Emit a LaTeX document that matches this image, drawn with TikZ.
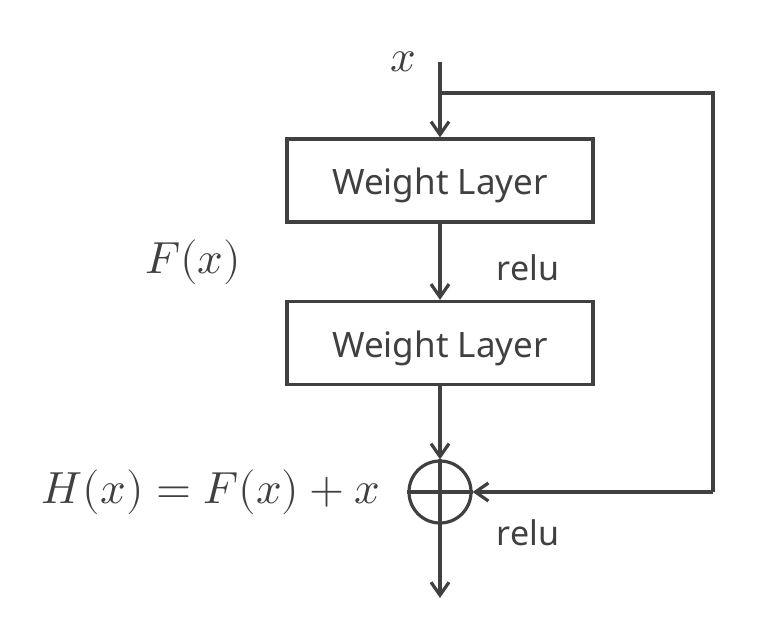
\documentclass[tikz,border=0pt]{standalone}
\usepackage{fontspec}
\usepackage{unicode-math}
\setmainfont{Noto Sans}
\setmathfont{Latin Modern Math}
\usetikzlibrary{arrows.meta}
\definecolor{ink}{HTML}{404040}
\begin{document}
\begin{tikzpicture}[x=1pt,y=-1pt,
  line width=3.2pt, draw=ink, color=ink,
  arr/.style={-{Straight Barb[length=13pt,width=18pt,line width=3.2pt]}},
  layer/.style={draw=ink, line width=3.2pt, minimum width=306pt, minimum height=83pt, inner sep=0pt, font=\fontsize{35}{40}\selectfont, text=ink},
  lbl/.style={inner sep=0pt, text=ink},
  mathlbl/.style={lbl, font=\fontsize{45}{52}\selectfont},
  sumnode/.style={circle, draw=ink, line width=3.2pt, minimum size=62pt, inner sep=0pt}]
\useasboundingbox (0,0) rectangle (762,630);
\node[layer] (w1) at (440,180.5) {\raisebox{-5pt}[\height][\depth]{Weight Layer}};
\node[layer] (w2) at (440,343) {\raisebox{-5pt}[\height][\depth]{Weight Layer}};
\node[sumnode] (s) at (440,492) {};
\coordinate (top) at (440,62);
\coordinate (br) at (440,93);
\coordinate (tr) at (713,93);
\coordinate (brr) at (713,492);
\coordinate (out) at (440,598);
\draw[arr] (top) -- (w1.north);
\draw (br) -- (tr) -- (brr);
\draw[arr] (brr) -- (s.east);
\draw[arr] (w1.south) -- (w2.north);
\draw[arr] (w2.south) -- (s.north);
\draw[arr] (s.south) -- (out);
\draw (s.west) -- (s.east);
\draw (s.north) -- (s.south);
\node[mathlbl] (xl) at (403,62) {$x$};
\node[mathlbl] (fx) at (193,262) {$F(x)$};
\node[mathlbl] (hx) at (211,492) {$H(x)=F(x)+x$};
\node[lbl, font=\fontsize{34}{40}\selectfont] (r1) at (528,268) {relu};
\node[lbl, font=\fontsize{34}{40}\selectfont] (r2) at (528,533) {relu};
\end{tikzpicture}
\end{document}
